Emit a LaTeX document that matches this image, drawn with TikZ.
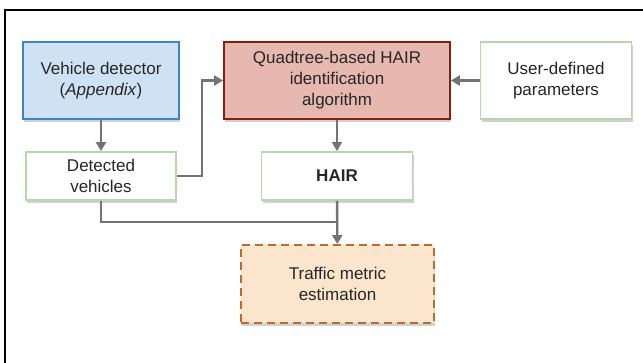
\documentclass[tikz,border=0pt]{standalone}
\usepackage{fontspec}
\setmainfont{Liberation Sans}
\usetikzlibrary{arrows.meta,shadows}

\definecolor{txt}{HTML}{262626}
\definecolor{conn}{HTML}{737373}
\definecolor{bluefill}{HTML}{CFE2F3}
\definecolor{blueline}{HTML}{3D85C6}
\definecolor{redfill}{HTML}{E6B8AF}
\definecolor{redline}{HTML}{85200C}
\definecolor{greenline}{HTML}{B6D7A8}
\definecolor{orangefill}{HTML}{FCE5CD}
\definecolor{orangeline}{HTML}{BF6A2A}

\tikzset{
  box/.style={draw, line width=1.8pt, inner sep=0pt, align=center,
    text=txt, font=\fontsize{17}{21}\selectfont,
    drop shadow={shadow xshift=1pt, shadow yshift=-3pt, opacity=0.18, fill=black}},
  bluebox/.style={box, fill=bluefill, draw=blueline},
  redbox/.style={box, fill=redfill, draw=redline},
  greenbox/.style={box, fill=white, draw=greenline},
  dashbox/.style={box, fill=orangefill, draw=orangeline, dash pattern=on 8pt off 5pt},
  link/.style={draw=conn, line width=2.4pt},
  arr/.style={link, -{Triangle[width=10pt,length=9pt]}},
}

\begin{document}
\begin{tikzpicture}[x=1pt,y=-1pt]
  \useasboundingbox[fill=white] (0,0) rectangle (643,363);

  % outer frame
  \draw[line width=2.2pt] (5,372) -- (5,10) -- (652,10);

  % boxes
  \node[bluebox, minimum width=156pt, minimum height=77pt] (vd) at (101,80.5)
    {Vehicle detector\\(\textit{Appendix})};
  \node[redbox, minimum width=226pt, minimum height=77pt] (qt) at (337,80.5)
    {Quadtree-based HAIR\\identification\\algorithm};
  \node[greenbox, minimum width=151pt, minimum height=77pt] (ud) at (556,80.5)
    {User-defined\\parameters};
  \node[greenbox, minimum width=150pt, minimum height=48pt] (dv) at (101,176)
    {Detected\\vehicles};
  \node[greenbox, minimum width=151pt, minimum height=48pt] (hair) at (337,176)
    {\textbf{HAIR}};
  \node[dashbox, minimum width=193pt, minimum height=78pt] (tm) at (337.5,284)
    {Traffic metric\\estimation};

  % junction where the two feeds into the estimation meet
  \coordinate (join) at (337,222);

  % connectors
  \draw[arr] (vd) -- (dv);
  \draw[arr] (dv.east) -- ++(25,0) |- (qt.west);
  \draw[arr] (ud) -- (qt);
  \draw[arr, line width=1.4pt] (qt) -- (hair);
  \draw[link] (dv.south) |- (join);
  \draw[arr] (hair) -- (tm);
\end{tikzpicture}
\end{document}
